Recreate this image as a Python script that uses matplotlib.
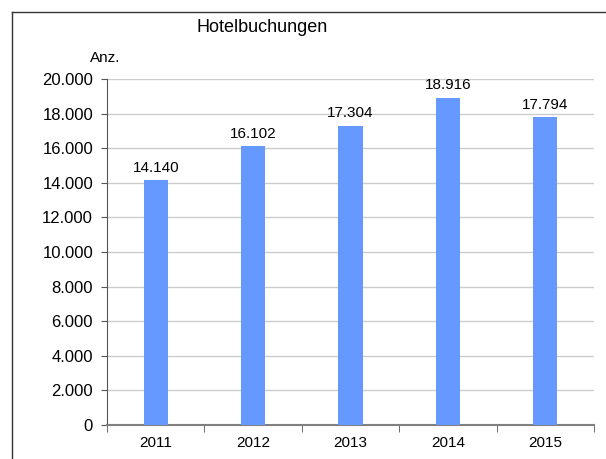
import numpy as np
import matplotlib.pyplot as plt
from matplotlib.lines import Line2D

plt.rcParams['font.family'] = ['Liberation Sans', 'DejaVu Sans']

# Daten
jahre = ['2011', '2012', '2013', '2014', '2015']
buchungen = [14140, 16102, 17304, 18916, 17794]
y_ticks = [0, 2000, 4000, 6000, 8000, 10000, 12000, 14000, 16000, 18000, 20000]


def de_format(v):
    return f'{v:,.0f}'.replace(',', '.')


fig = plt.figure(figsize=(6.06, 4.59), dpi=100)
ax = fig.add_axes([107 / 606, 1 - 425 / 459, 487 / 606, 346 / 459])

x = np.arange(len(jahre))
bars = ax.bar(x, buchungen, width=0.25, color='#6699ff', zorder=3)

for xi, v in zip(x, buchungen):
    ax.annotate(de_format(v), (xi, v), xytext=(0, 4), textcoords='offset points',
                ha='center', va='bottom', fontsize=11)

ax.set_xlim(-0.5, len(jahre) - 0.5)
ax.set_ylim(0, 20000)
ax.set_yticks(y_ticks)
ax.set_yticklabels([de_format(v) for v in y_ticks], fontsize=12)
ax.set_xticks(x)
ax.set_xticklabels(jahre, fontsize=11)
ax.tick_params(axis='x', length=0, pad=8)
ax.set_xticks(np.arange(len(jahre) + 1) - 0.5, minor=True)
ax.tick_params(axis='x', which='minor', length=5, color='#555555')
ax.tick_params(axis='y', length=4, color='#555555', pad=6)

ax.grid(axis='y', color='#cccccc', linewidth=1, zorder=0)
for s in ['top', 'right']:
    ax.spines[s].set_visible(False)
ax.spines['left'].set_color('#555555')
ax.spines['bottom'].set_color('#808080')
ax.spines['bottom'].set_linewidth(1.5)

fig.text(262 / 606, 1 - 28 / 459, 'Hotelbuchungen', ha='center', va='center', fontsize=13)
fig.text(105 / 606, 1 - 58 / 459, 'Anz.', ha='center', va='center', fontsize=11)

# Rahmen links und oben
fig.add_artist(Line2D([11.5 / 606, 11.5 / 606], [0, 1 - 12 / 459],
                      transform=fig.transFigure, color='#333333', linewidth=1))
fig.add_artist(Line2D([11.5 / 606, 1], [1 - 12 / 459, 1 - 12 / 459],
                      transform=fig.transFigure, color='#333333', linewidth=1))

fig.savefig('out.png', dpi=100)
